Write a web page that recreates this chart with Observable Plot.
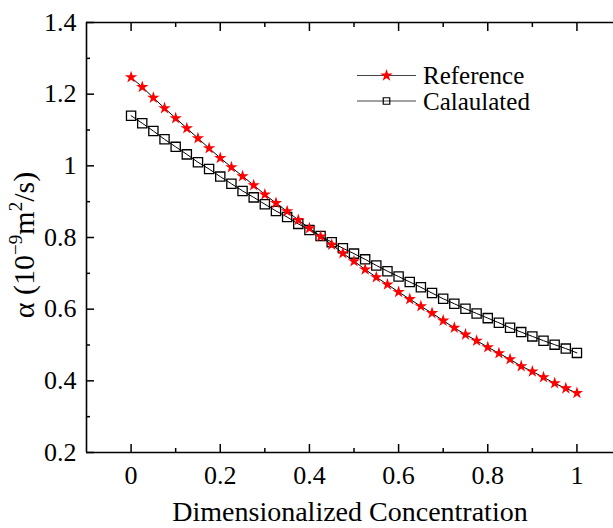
<!DOCTYPE html>
<html><head><meta charset="utf-8">
<script src="https://cdn.jsdelivr.net/npm/d3@7"></script>
<script src="https://cdn.jsdelivr.net/npm/@observablehq/plot@0.6"></script>
<style>
html,body{margin:0;padding:0;background:#fff;overflow:hidden}
#wrap{position:relative;width:613px;height:528px}
</style></head><body><div id="wrap"></div>
<script>
const concentration = [0,0.025,0.05,0.075,0.1,0.125,0.15,0.175,0.2,0.225,0.25,0.275,0.3,0.325,0.35,0.375,0.4,0.425,0.45,0.475,0.5,0.525,0.55,0.575,0.6,0.625,0.65,0.675,0.7,0.725,0.75,0.775,0.8,0.825,0.85,0.875,0.9,0.925,0.95,0.975,1];
const reference = [1.247,1.220,1.190,1.161,1.133,1.105,1.077,1.049,1.022,0.996,0.971,0.946,0.920,0.896,0.873,0.849,0.826,0.803,0.780,0.756,0.734,0.711,0.689,0.669,0.648,0.628,0.608,0.589,0.568,0.548,0.529,0.512,0.494,0.477,0.460,0.441,0.426,0.410,0.393,0.379,0.366];
const calculated = [1.140,1.119,1.097,1.074,1.053,1.032,1.010,0.991,0.970,0.950,0.930,0.912,0.893,0.874,0.857,0.838,0.821,0.804,0.787,0.770,0.755,0.739,0.722,0.706,0.691,0.676,0.661,0.645,0.629,0.615,0.601,0.588,0.575,0.562,0.548,0.536,0.524,0.512,0.501,0.490,0.478];
const seriesNames = ["Reference","Calaulated"];
const xTicks = [0,0.2,0.4,0.6,0.8,1];
const xMinor = [0.1,0.3,0.5,0.7,0.9];
const yTicks = [0.2,0.4,0.6,0.8,1,1.2,1.4];
const yMinor = [0.3,0.5,0.7,0.9,1.1,1.3];
const xLabel = "Dimensionalized Concentration";

const refData = concentration.map((c,i)=>({c, v: reference[i]}));
const calcData = concentration.map((c,i)=>({c, v: calculated[i]}));
const fmt = d => String(d);
const FONT = "Liberation Serif, Times New Roman, serif";
const starR = 3.9, sqR = 5.2;

const chart = Plot.plot({
  width: 613, height: 528,
  marginTop: 22, marginBottom: 76, marginLeft: 86, marginRight: 0,
  style: {fontFamily: FONT, fontSize: "26px", color: "#000", background: "#fff", overflow: "visible"},
  x: {domain: [-0.1, 1.082]},
  y: {domain: [0.2, 1.4]},
  marks: [
    Plot.ruleY([0.2], {stroke: "#000", strokeWidth: 1.6}),
    Plot.ruleY([1.4], {stroke: "#000", strokeWidth: 1.6}),
    Plot.ruleX([-0.1], {stroke: "#000", strokeWidth: 1.6}),
    Plot.axisX(xTicks, {anchor: "bottom", tickSize: -8, tickPadding: 21, tickFormat: fmt, strokeWidth: 1.5, label: null, fontSize: 26}),
    Plot.axisX(xMinor, {anchor: "bottom", tickSize: -4, tickFormat: () => "", strokeWidth: 1.5, label: null}),
    Plot.axisX(xTicks, {anchor: "top", tickSize: -8, tickFormat: () => "", strokeWidth: 1.5, label: null}),
    Plot.axisX(xMinor, {anchor: "top", tickSize: -4, tickFormat: () => "", strokeWidth: 1.5, label: null}),
    Plot.axisY(yTicks, {anchor: "left", tickSize: -8, tickPadding: 18, tickFormat: fmt, strokeWidth: 1.5, label: null, fontSize: 26}),
    Plot.axisY(yMinor, {anchor: "left", tickSize: -4, tickFormat: () => "", strokeWidth: 1.5, label: null}),
    Plot.line(calcData, {x: "c", y: "v", stroke: "#000", strokeWidth: 1}),
    Plot.dot(calcData, {x: "c", y: "v", symbol: "square", r: sqR, fill: "none", stroke: "#000", strokeWidth: 1.3}),
    Plot.line(refData, {x: "c", y: "v", stroke: "#000", strokeWidth: 1}),
    Plot.dot(refData, {x: "c", y: "v", symbol: "star", r: starR, fill: "#ff0000", stroke: "none"})
  ]
});

const svg = d3.select(chart);
// x label
svg.append("text").attr("x", 350).attr("y", 521).attr("text-anchor", "middle")
  .attr("font-family", FONT).attr("font-size", 28).attr("fill", "#000").text(xLabel);
// y label with superscripts
const yl = svg.append("text").attr("transform", "translate(34,245) rotate(-90)")
  .attr("text-anchor", "middle").attr("font-family", FONT).attr("font-size", 30).attr("fill", "#000");
yl.append("tspan").text("α (10");
yl.append("tspan").attr("dy", -12).attr("font-size", 19).text("−9");
yl.append("tspan").attr("dy", 12).text("m");
yl.append("tspan").attr("dy", -12).attr("font-size", 19).text("2");
yl.append("tspan").attr("dy", 12).text("/s)");

// legend
const lg = svg.append("g");
const rows = [{y: 75.5, sym: d3.symbolStar, size: Math.PI*starR*starR, fill: "#ff0000", stroke: "none"},
              {y: 101, sym: d3.symbolSquare, size: Math.PI*sqR*sqR*0.5, fill: "none", stroke: "#000"}];
rows.forEach((r, i) => {
  lg.append("line").attr("x1", 357).attr("x2", 416).attr("y1", r.y).attr("y2", r.y).attr("stroke", "#444").attr("stroke-width", 1.2);
  lg.append("path").attr("d", d3.symbol(r.sym, r.size)()).attr("transform", `translate(386.5,${r.y})`)
    .attr("fill", r.fill).attr("stroke", r.stroke).attr("stroke-width", 1.2);
  lg.append("text").attr("x", 423).attr("y", r.y + 8.5).attr("text-anchor", "start").attr("font-family", FONT).attr("font-size", 25).attr("fill", "#000").text(seriesNames[i]);
});

document.getElementById("wrap").appendChild(chart);
</script></body></html>
